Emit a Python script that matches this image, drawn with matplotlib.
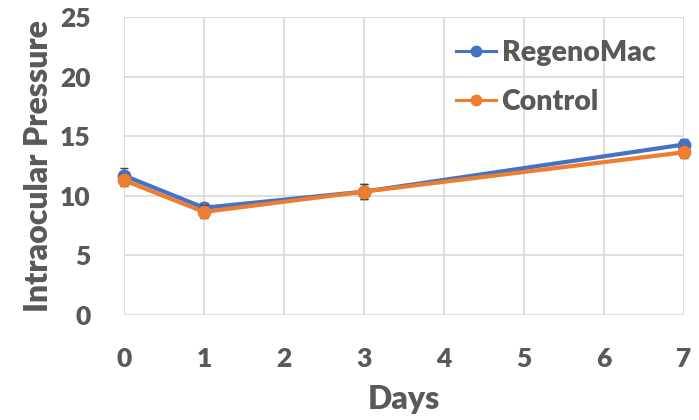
import matplotlib
matplotlib.use("Agg")
import matplotlib.pyplot as plt
from matplotlib.lines import Line2D

days = [0, 1, 3, 7]
regeno = [11.7, 9.0, 10.35, 14.3]
regeno_err = [0.6, 0.4, 0.6, 0.5]
control = [11.3, 8.65, 10.35, 13.65]
control_err = [0.5, 0.55, 0.6, 0.5]
series_names = ["RegenoMac", "Control"]

plt.rcParams['font.family'] = ['Lato', 'DejaVu Sans']
plt.rcParams['font.weight'] = 'bold'
gray = '#595959'

fig = plt.figure(figsize=(6.99, 4.2), dpi=100)
ax = fig.add_axes([124/699, 1-315/420, 560/699, 298/420])

for vals, errs, col, name, z in [(regeno, regeno_err, '#4472C4', series_names[0], 3),
                                 (control, control_err, '#ED7D31', series_names[1], 4)]:
    cont = ax.errorbar(days, vals, yerr=errs, color=col, lw=3, marker='o', ms=9,
                       ecolor='#404040', elinewidth=1, capsize=3, label=name, zorder=z)
    cont[0].set_clip_on(False)
    for c in cont[1]:
        c.set_clip_on(False)
    for c in cont[2]:
        c.set_clip_on(False)

ax.set_xlim(0, 7)
ax.set_ylim(0, 25)
ax.set_xticks(range(8))
ax.set_yticks(range(0, 26, 5))
ax.grid(True, color='#D9D9D9', lw=1.2)
ax.set_axisbelow(True)
for s in ax.spines.values():
    s.set_visible(False)
ax.tick_params(axis='x', length=0, labelsize=19, labelcolor=gray, pad=23)
ax.tick_params(axis='y', length=0, labelsize=19, labelcolor=gray, pad=24)
for lab in ax.get_xticklabels() + ax.get_yticklabels():
    lab.set_fontweight('heavy')
ax.set_xlabel('Days', fontsize=23, color=gray, fontweight='heavy', labelpad=10)
ax.set_ylabel('Intraocular Pressure', fontsize=23, color=gray, fontweight='heavy', labelpad=5)

handles = [Line2D([], [], color='#4472C4', lw=2.2, marker='o', ms=7.5),
           Line2D([], [], color='#ED7D31', lw=2.2, marker='o', ms=7.5)]
leg = ax.legend(handles, series_names, loc='upper left', bbox_to_anchor=(0.547, 1.008), frameon=False,
                fontsize=20.5, handlelength=1.42, handletextpad=0.18, labelspacing=0.8)
for t in leg.get_texts():
    t.set_color(gray)
    t.set_fontweight('heavy')

fig.savefig('out.png', dpi=100)
